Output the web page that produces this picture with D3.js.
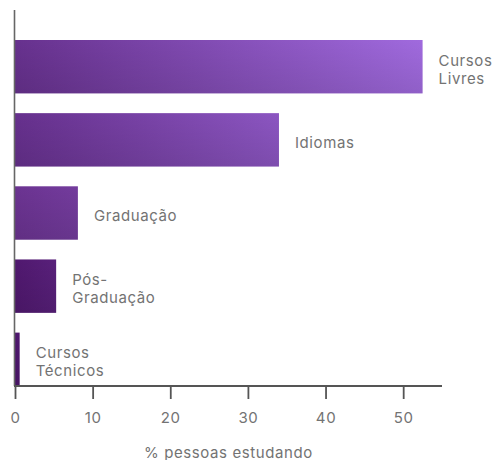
<!DOCTYPE html>
<html>
<head>
<meta charset="utf-8">
<script src="https://cdn.jsdelivr.net/npm/d3@7"></script>
<style>
  html, body { margin: 0; padding: 0; background: #ffffff; }
  svg { display: block; }
  text { font-family: "Inter", "Noto Sans", sans-serif; letter-spacing: 0.6px; }
</style>
</head>
<body>
<div id="chart"></div>
<script>
// ---- data ----
const categories = ["Cursos Livres", "Idiomas", "Graduação", "Pós-Graduação", "Cursos Técnicos"];
const values = [52.5, 34.0, 8.1, 5.3, 0.6];
const xTicks = [0, 10, 20, 30, 40, 50];
const xTitle = "% pessoas estudando";

// ---- layout ----
const W = 493, H = 460;
const svg = d3.select("#chart").append("svg").attr("width", W).attr("height", H);

const x = d3.scaleLinear().domain([0, 55]).range([15, 442]);
const y = d3.scaleBand().domain(categories).range([40, 386]).paddingInner(0.27).paddingOuter(0);

// per-bar start shade (left side of gradient)
const startColor = d3.scaleOrdinal().domain(categories)
  .range(["#67318e", "#66308d", "#6b3391", "#50186f", "#4e166e"]);
const endColor = "#a06ade";

const defs = svg.append("defs");
categories.forEach((c, i) => {
  const g = defs.append("linearGradient")
    .attr("id", "hg" + i)
    .attr("gradientUnits", "userSpaceOnUse")
    .attr("x1", x(0)).attr("y1", 0)
    .attr("x2", x(d3.max(values))).attr("y2", 0);
  g.append("stop").attr("offset", "0%").attr("stop-color", startColor(c));
  g.append("stop").attr("offset", "100%").attr("stop-color", endColor);
});
const vg = defs.append("linearGradient").attr("id", "vshade")
  .attr("x1", 0).attr("y1", 0).attr("x2", 0).attr("y2", 1);
vg.append("stop").attr("offset", "0%").attr("stop-color", "#000").attr("stop-opacity", 0);
vg.append("stop").attr("offset", "100%").attr("stop-color", "#000").attr("stop-opacity", 0.1);

const data = categories.map((c, i) => ({ c, v: values[i], i }));

// bars
const bars = svg.append("g");
bars.selectAll("rect.bar").data(data).join("rect")
  .attr("class", "bar")
  .attr("x", x(0))
  .attr("y", d => y(d.c))
  .attr("width", d => x(d.v) - x(0))
  .attr("height", y.bandwidth())
  .attr("fill", d => "url(#hg" + d.i + ")");
bars.selectAll("rect.shade").data(data).join("rect")
  .attr("class", "shade")
  .attr("x", x(0))
  .attr("y", d => y(d.c))
  .attr("width", d => x(d.v) - x(0))
  .attr("height", y.bandwidth())
  .attr("fill", "url(#vshade)");

// labels (wrapped)
function splitLabel(s) {
  if (s.includes("-")) { const k = s.indexOf("-"); return [s.slice(0, k + 1), s.slice(k + 1)]; }
  return s.split(" ");
}
const lineH = 18;
const lab = svg.append("g").attr("fill", "#737373").attr("font-size", 15);
data.forEach(d => {
  const lines = splitLabel(d.c);
  const cy = y(d.c) + y.bandwidth() / 2 + 2;
  const t = lab.append("text")
    .attr("x", x(d.v) + 16)
    .attr("y", cy - (lines.length - 1) * lineH / 2)
    .attr("dominant-baseline", "central");
  lines.forEach((ln, k) => {
    t.append("tspan").attr("x", x(d.v) + 16).attr("dy", k === 0 ? 0 : lineH).text(ln);
  });
});

// y axis line
svg.append("line")
  .attr("x1", 14.5).attr("x2", 14.5).attr("y1", 10).attr("y2", 386)
  .attr("stroke", "#666").attr("stroke-width", 1.6);

// x axis
const xAxis = svg.append("g").attr("transform", "translate(0,386)")
  .call(d3.axisBottom(x).tickValues(xTicks).tickSize(13).tickPadding(13).tickSizeOuter(0));
xAxis.select(".domain").attr("stroke", "#555").attr("stroke-width", 1.8)
  .attr("d", "M" + (x(0) - 1) + ",0H" + x.range()[1]);
xAxis.selectAll(".tick line").attr("stroke", "#555").attr("stroke-width", 1.8);
xAxis.selectAll(".tick text").attr("fill", "#737373").attr("font-size", 15)
  .attr("font-family", "Inter, 'Noto Sans', sans-serif");

svg.append("text")
  .attr("x", (x(0) + x.range()[1]) / 2)
  .attr("y", 452)
  .attr("text-anchor", "middle")
  .attr("dominant-baseline", "central")
  .attr("fill", "#737373").attr("font-size", 15)
  .text(xTitle);
</script>
</body>
</html>
